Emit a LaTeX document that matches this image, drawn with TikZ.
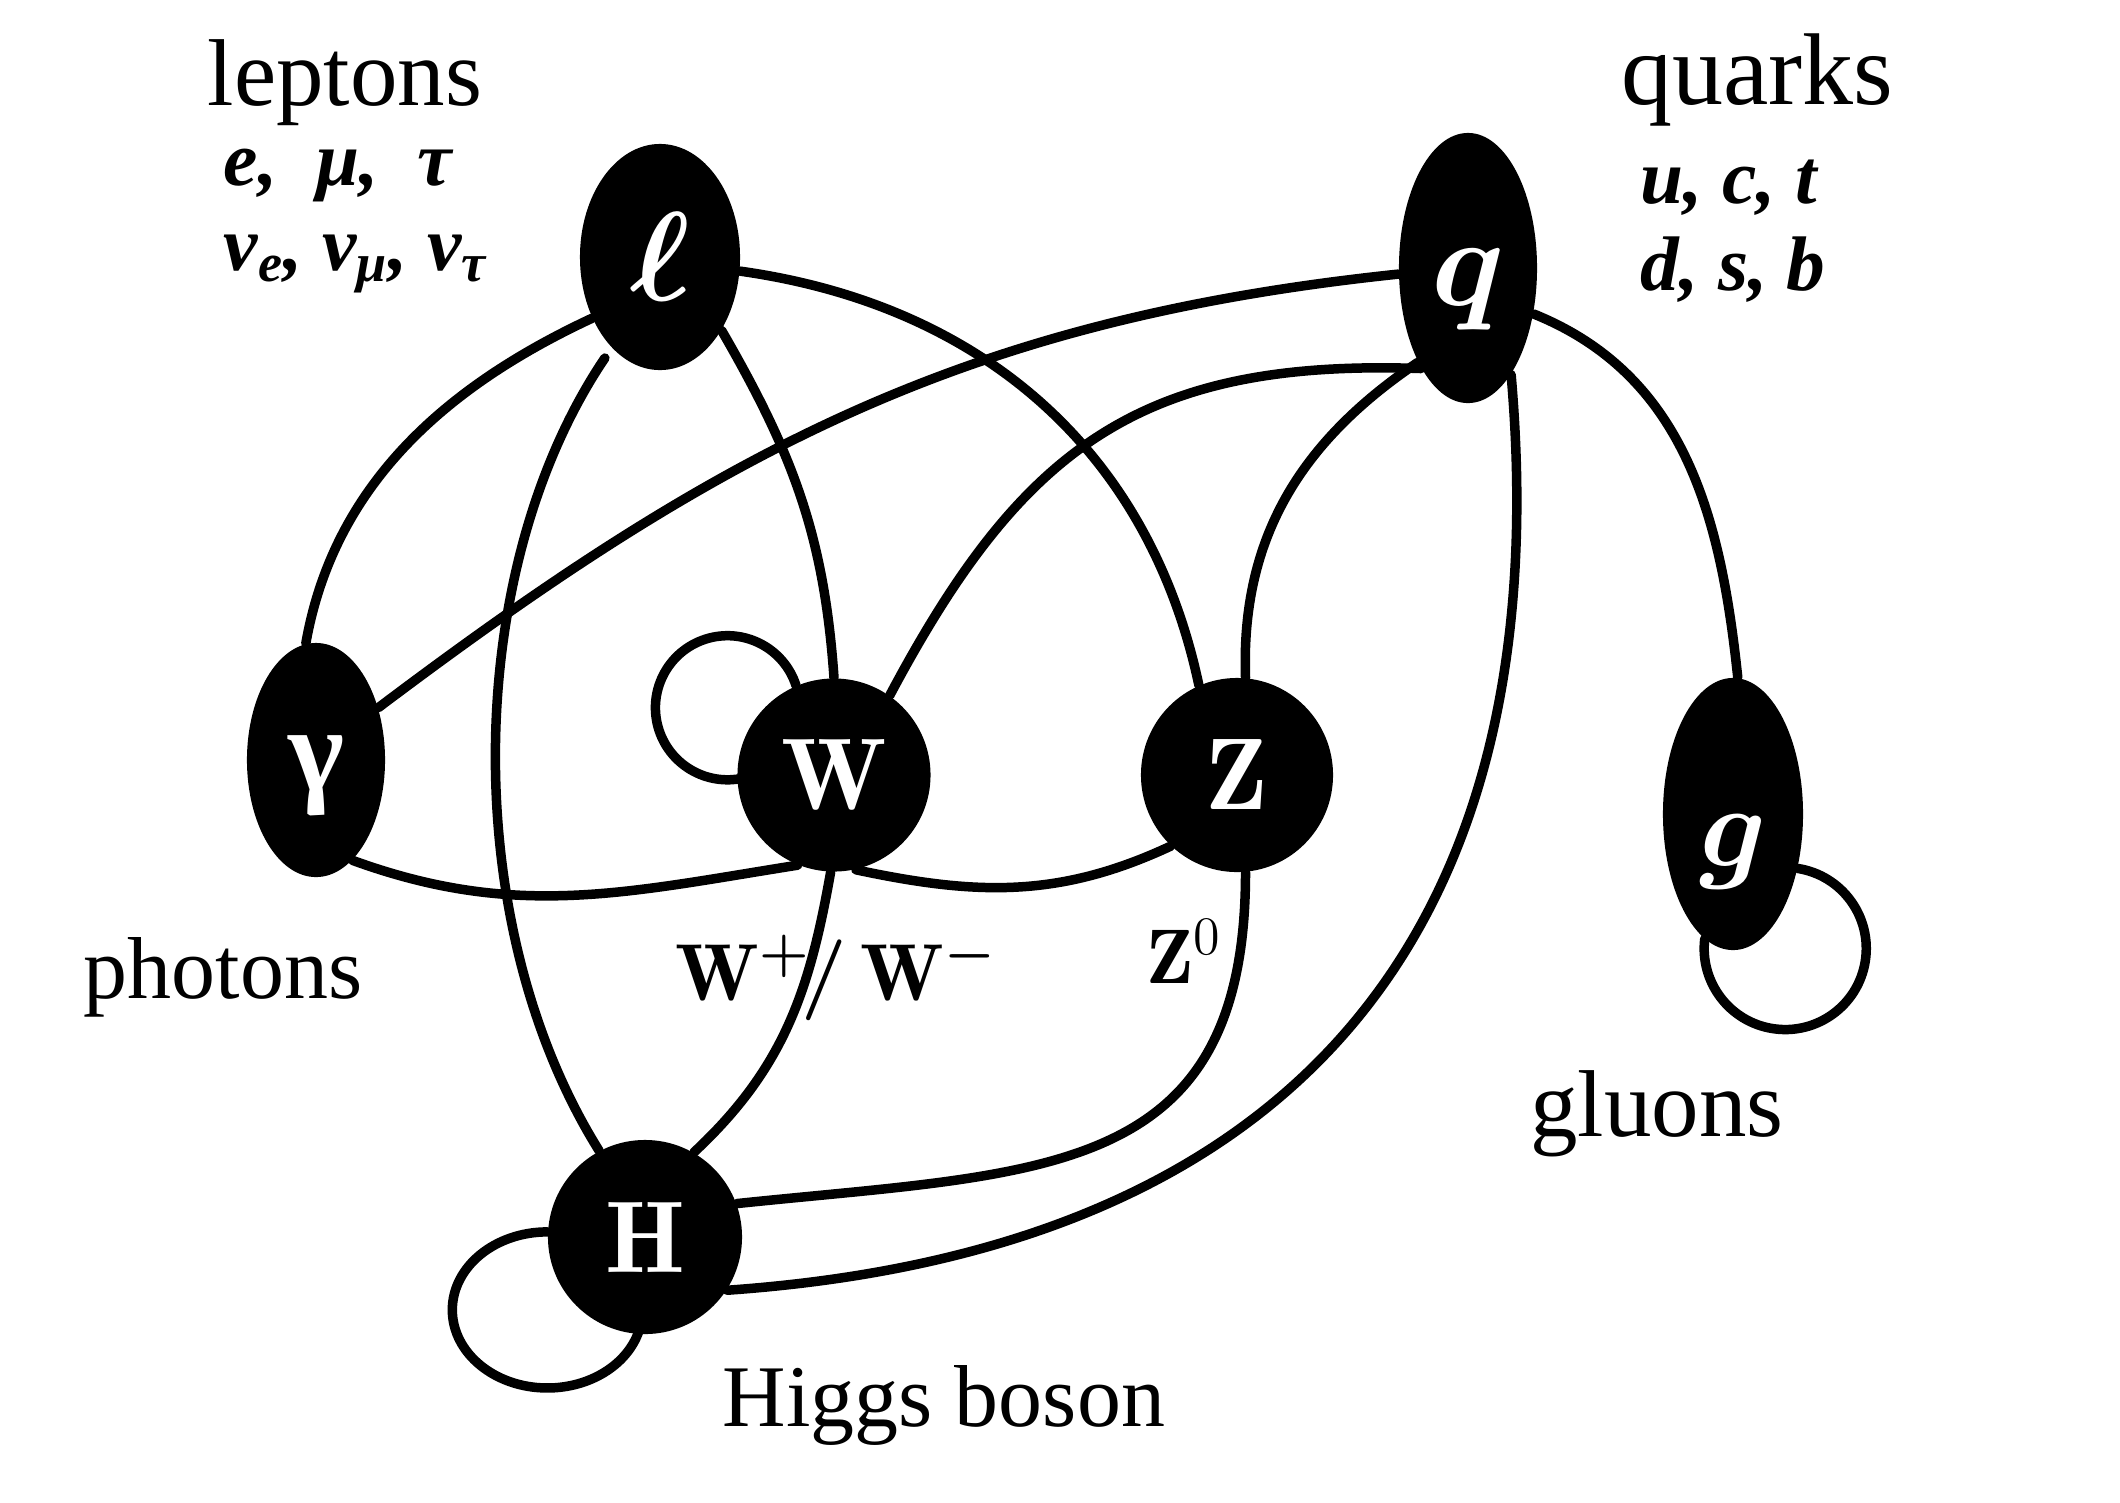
\RequirePackage{fix-cm}
\documentclass[tikz,border=0pt]{standalone}
\usepackage{fontspec}
\usepackage{amsmath,bm}
\newfontfamily\tms{Liberation Serif}
\usetikzlibrary{shapes.geometric}
\tikzset{
  particle/.style={ellipse, fill=black, inner sep=0pt, text=white},
  link/.style={line width=2.7pt, line cap=round},
  lbl/.style={anchor=base, inner sep=0pt},
}
\begin{document}
\begin{tikzpicture}[x=0.01cm,y=0.01cm]
\useasboundingbox (0,0) rectangle (2120,-1502);
% particles
\node[particle, minimum width=1.60cm, minimum height=2.26cm] (l) at (660,-257) {\fontsize{36}{36}\selectfont$\bm{\ell}$};
\node[particle, minimum width=1.38cm, minimum height=2.70cm] (q) at (1468,-268) {\raisebox{-0.37cm}[0pt][0pt]{\fontsize{36}{36}\selectfont$\bm{q}$}};
\node[particle, minimum width=1.38cm, minimum height=2.34cm] (gam) at (316,-760) {\raisebox{-0.30cm}[0pt][0pt]{\tms\bfseries\fontsize{34}{34}\selectfont γ}};
\node[particle, minimum width=1.93cm, minimum height=1.93cm] (W) at (834,-775) {\fontsize{29}{29}\selectfont$\mathbf{W}$};
\node[particle, minimum width=1.92cm, minimum height=1.94cm] (Z) at (1237,-775) {\fontsize{29}{29}\selectfont$\mathbf{Z}$};
\node[particle, minimum width=1.40cm, minimum height=2.72cm] (g) at (1733,-814) {\raisebox{-0.52cm}[0pt][0pt]{\fontsize{33}{33}\selectfont$\bm{g}$}};
\node[particle, minimum width=1.94cm, minimum height=1.94cm] (H) at (645,-1237) {\fontsize{29}{29}\selectfont$\mathbf{H}$};
% labels
\node[lbl, font=\tms\fontsize{27}{27}\selectfont] (leptons) at (345,-105) {leptons};
\node[lbl, anchor=base west, font=\tms\bfseries\itshape\fontsize{22}{22}\selectfont] (lepA) at (223,-185) {e,\ \ μ,\ \ τ};
\node[lbl, anchor=base west, font=\tms\bfseries\itshape\fontsize{22}{22}\selectfont] (lepB) at (223,-270) {ν\textsubscript{e}, ν\textsubscript{μ}, ν\textsubscript{τ}};
\node[lbl, font=\tms\fontsize{29}{29}\selectfont] (quarks) at (1757,-104) {quarks};
\node[lbl, anchor=base west, font=\tms\bfseries\itshape\fontsize{22}{22}\selectfont] (qA) at (1640,-203) {u, c, t};
\node[lbl, anchor=base west, font=\tms\bfseries\itshape\fontsize{22}{22}\selectfont] (qB) at (1640,-290) {d, s, b};
\node[lbl, font=\tms\fontsize{25}{25}\selectfont] (photons) at (223,-998) {photons};
\node[lbl, font=\fontsize{23}{23}\selectfont] (wlab) at (836,-1000) {$\mathbf{W}^{\bm{+}}\mkern-2mu\bm{/}\,\mathbf{W}^{\bm{-}}$};
\node[lbl, anchor=base west, font=\fontsize{22}{22}\selectfont] (zlab) at (1146,-983) {$\mathbf{Z}^{0}$};
\node[lbl, font=\tms\fontsize{27}{27}\selectfont] (gluons) at (1657,-1136) {gluons};
\node[lbl, font=\tms\fontsize{25}{25}\selectfont] (higgs) at (944,-1426) {Higgs boson};
% connectors
\draw[link] (l.222) to[out=205,in=80,looseness=0.95] (gam.95);
\draw[link, shorten <=0.12cm] (l.242) to[out=236,in=122,looseness=0.85] (H.118);
\draw[link] (l.310) to[out=300,in=94] (W.90);
\draw[link] (l.350) to[out=-8,in=102] (Z.113);
\draw[link] (q.185) to[out=186,in=37] (gam.40);
\draw[link] (q.245) to[out=178,in=62,looseness=1.15] (W.55);
\draw[link] (q.242) to[out=214,in=92] (Z.85);
\draw[link] (q.292) to[out=275,in=4,looseness=1.2] (H.327);
\draw[link] (q.325) to[out=-22,in=96] (g.88);
\draw[link] (gam.290) to[out=-20,in=189] (W.248);
\draw[link] (W.283) to[out=-12,in=205] (Z.227);
\draw[link] (W.268) to[out=260,in=43] (H.60);
\draw[link] (Z.275) to[out=270,in=6,looseness=1.3] (H.20);
% self-loops
\draw[link] (W.113) arc[start angle=18,end angle=286,radius=0.72cm];
\draw[link] (g.320) arc[start angle=81,end angle=-187,radius=0.81cm];
\draw[link] (H.177) arc[start angle=90,end angle=345,x radius=0.95cm,y radius=0.78cm];
\end{tikzpicture}
\end{document}
